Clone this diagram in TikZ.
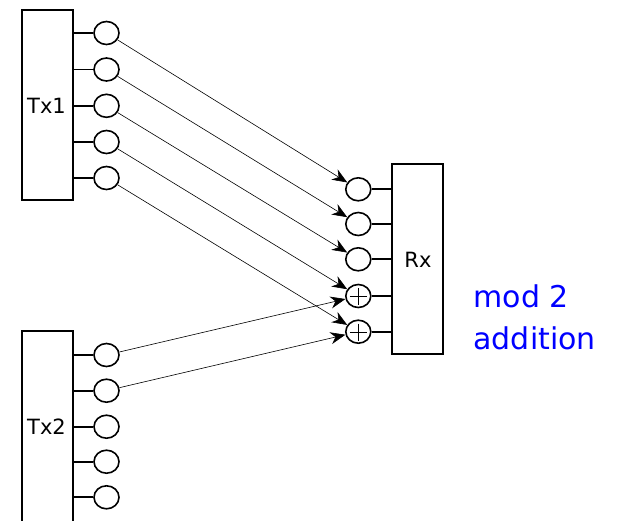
\documentclass[tikz,border=0pt]{standalone}
\usepackage{fontspec}
\setmainfont{DejaVu Sans}
\usetikzlibrary{arrows.meta,shapes.geometric,calc}
\begin{document}
\begin{tikzpicture}[x=1pt,y=-1pt,
  box/.style={draw,line width=1.8pt,inner sep=0pt},
  port/.style={draw,line width=1.6pt,ellipse,minimum width=25pt,minimum height=23pt,inner sep=0pt},
  stub/.style={line width=1.8pt},
  conn/.style={line width=0.6pt,-{Stealth[length=15pt,width=12pt]}},
  lbl/.style={font=\fontsize{21}{24}\selectfont}]
\useasboundingbox (0,0) rectangle (637,520);
% Tx1
\node[box,minimum width=51pt,minimum height=190pt] (tx1) at (47.5,105) {};
\node[lbl] at (46.5,106) {Tx1};
\foreach \i/\y in {1/33,2/69.5,3/105.8,4/142,5/178}{
  \node[port] (a\i) at (106.5,\y) {};
  \draw[stub] (73,\y) -- (a\i.west);
}
% Tx2
\node[box,minimum width=51pt,minimum height=200pt] (tx2) at (47.5,431) {};
\node[lbl] at (46.5,427) {Tx2};
\foreach \i/\y in {1/355,2/390.7,3/426.7,4/461.7,5/497.3}{
  \node[port] (b\i) at (106.5,\y) {};
  \draw[stub] (73,\y) -- (b\i.west);
}
% Rx
\node[box,minimum width=51.5pt,minimum height=190pt] (rx) at (417.5,259) {};
\node[lbl] at (418,260) {Rx};
\foreach \i/\y in {1/189.3,2/224,3/259.3,4/296,5/331.7}{
  \node[port] (r\i) at (358.3,\y) {};
  \draw[stub] (r\i.east) -- (392,\y);
}
\foreach \i in {4,5}{
  \draw[line width=1.3pt] ($(r\i)+(-8.5,0.5)$) -- ($(r\i)+(8.5,0.5)$);
  \draw[line width=1.3pt] ($(r\i)+(0,-8)$) -- ($(r\i)+(0,9)$);
}
% connectors
\foreach \i in {1,...,5}{
  \draw[conn] (a\i) -- (r\i);
}
\draw[conn] (b1) -- (r4);
\draw[conn] (b2) -- (r5);
\node[text=blue,align=left,font=\fontsize{30}{42}\selectfont,anchor=west] (m) at (470,317) {mod 2\\addition};
\end{tikzpicture}
\end{document}
